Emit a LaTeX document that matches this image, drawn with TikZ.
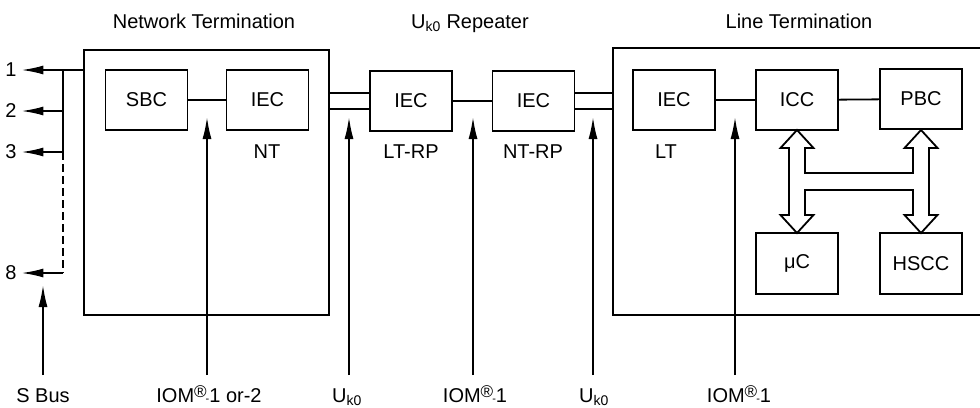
\documentclass[tikz,border=0pt]{standalone}
\usepackage{fontspec}
\setmainfont{Liberation Sans}
\usetikzlibrary{arrows.meta}
\newcommand{\regR}{\raisebox{5pt}{\fontsize{17}{17}\selectfont ®}\kern-1pt{\fontsize{11}{11}\selectfont -}1}
\begin{document}
\begin{tikzpicture}[x=1pt,y=-1pt, line width=1.8pt,
  blk/.style={draw, minimum width=82pt, minimum height=60pt, inner sep=0pt, font=\fontsize{20}{20}\selectfont},
  lbl/.style={inner sep=0pt, font=\fontsize{20}{20}\selectfont},
  arr/.style={-{Latex[length=22pt,width=9pt]}}]
\useasboundingbox (0,0) rectangle (980,407);
\clip (0,0) rectangle (980,407);
% outer boxes
\node[draw, minimum width=245pt, minimum height=265pt, inner sep=0pt] (nt) at (206.5,182.5) {};
\node[draw, minimum width=387pt, minimum height=267pt, inner sep=0pt] (lt) at (806.5,181.5) {};
% titles
\node[lbl, anchor=base] (tnt) at (204,28) {Network Termination};
\node[lbl, anchor=base] (trp) at (470,28) {U\textsubscript{k0} Repeater};
\node[lbl, anchor=base] (tlt) at (799,28) {Line Termination};
% blocks
\node[blk] (sbc) at (146.5,100) {SBC};
\node[blk] (ntiec) at (267.5,100) {IEC};
\node[blk] (lrp) at (411,101) {IEC};
\node[blk] (nrp) at (533.5,101) {IEC};
\node[blk] (ltiec) at (674,100) {IEC};
\node[blk] (icc) at (797,100) {ICC};
\node[blk] (pbc) at (921,99) {PBC};
\node[blk, minimum height=61pt] (uc) at (797,263.5) {μC};
\node[blk, minimum height=61pt] (hscc) at (921,263.5) {HSCC};
% sublabels
\node[lbl] (lnt) at (267,152) {NT};
\node[lbl] (llrp) at (411,152) {LT-RP};
\node[lbl] (lnrp) at (533,152) {NT-RP};
\node[lbl] (llt) at (666,152) {LT};
% connections
\draw (sbc) -- (ntiec);
\draw (lrp) -- (nrp);
\draw (ltiec) -- (icc);
\draw (icc) -- (pbc);
\draw ([yshift=8pt]lrp.west) -- ([yshift=8pt]lrp.west -| nt.east);
\draw ([yshift=-8pt]lrp.west) -- ([yshift=-8pt]lrp.west -| nt.east);
\draw ([yshift=8pt]nrp.east) -- ([yshift=8pt]nrp.east -| lt.west);
\draw ([yshift=-8pt]nrp.east) -- ([yshift=-8pt]nrp.east -| lt.west);
% H-shaped bus arrows
\draw[line join=miter] (797,130) -- (780.5,148) -- (789,148) -- (789,215) -- (780.5,215) -- (797,233)
  -- (813.5,215) -- (805,215) -- (805,190) -- (913,190) -- (913,215) -- (904.5,215)
  -- (921,233) -- (937.5,215) -- (929,215) -- (929,148) -- (937.5,148) -- (921,130)
  -- (904.5,148) -- (913,148) -- (913,173) -- (805,173) -- (805,148) -- (813.5,148) -- cycle;
% S bus on the left
\node[lbl] (n1) at (11,70) {1};
\node[lbl] (n2) at (11,111) {2};
\node[lbl] (n3) at (11,152) {3};
\node[lbl] (n8) at (11,273) {8};
\coordinate (b1) at (63,70);
\coordinate (b2) at (63,111);
\coordinate (b3) at (63,152);
\coordinate (b8) at (63,273);
\draw[arr, shorten >=4pt] (nt.west |- n1) -- (n1.east);
\draw[arr, shorten >=4pt] (b2) -- (n2.east);
\draw[arr, shorten >=4pt] (b3) -- (n3.east);
\draw[arr, shorten >=4pt] (b8) -- (n8.east);
\draw (b1) -- (b3);
\draw[dash pattern=on 8pt off 4pt] (b3) -- (b8);
% bottom labels
\node[lbl, anchor=base] (sbus) at (43,402) {S Bus};
\node[lbl, anchor=base] (iom12) at (209,402) {IOM\regR\ or-2};
\node[lbl, anchor=base] (uk1) at (347,402) {U\textsubscript{k0}};
\node[lbl, anchor=base] (iom1a) at (475,402) {IOM\regR};
\node[lbl, anchor=base] (uk2) at (594,402) {U\textsubscript{k0}};
\node[lbl, anchor=base] (iom1b) at (739,402) {IOM\regR};
% interface arrows
\coordinate (t0) at (43,285);
\coordinate (t1) at (207,117);
\coordinate (t2) at (349,117);
\coordinate (t3) at (473,117);
\coordinate (t4) at (593,117);
\coordinate (t5) at (735,117);
\draw[arr] (t0 |- 0,375) -- (t0);
\draw[arr] (t1 |- 0,375) -- (t1);
\draw[arr] (t2 |- 0,375) -- (t2);
\draw[arr] (t3 |- 0,375) -- (t3);
\draw[arr] (t4 |- 0,375) -- (t4);
\draw[arr] (t5 |- 0,375) -- (t5);
\end{tikzpicture}
\end{document}
